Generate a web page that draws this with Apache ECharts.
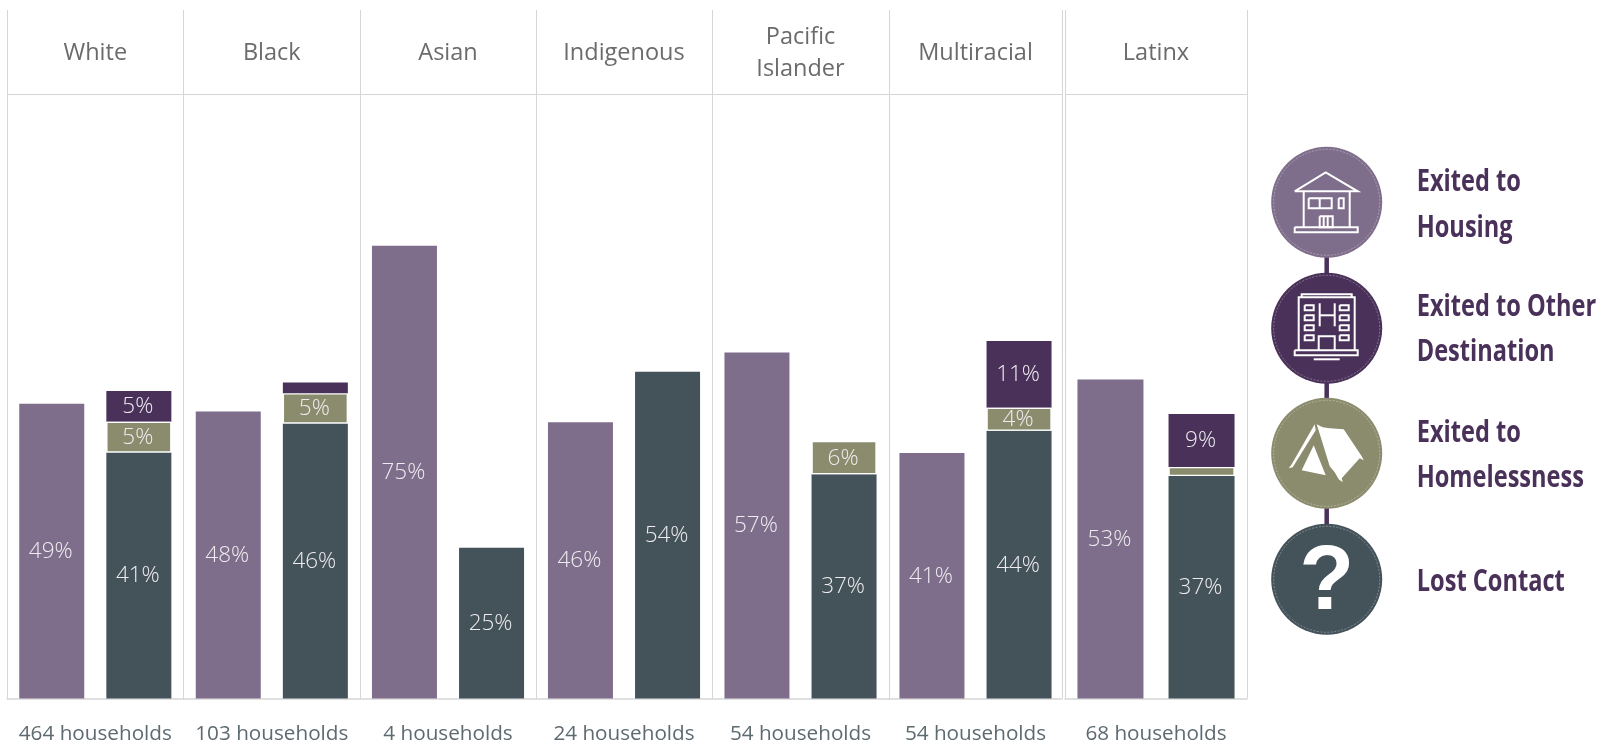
<!DOCTYPE html>
<html><head><meta charset="utf-8">
<style>html,body{margin:0;padding:0;background:#fff}#c{width:1600px;height:742px}</style>
<script src="https://cdn.jsdelivr.net/npm/echarts@6/dist/echarts.min.js"></script>
</head><body><div id="c"></div>
<script>
const races = ['White','Black','Asian','Indigenous','Pacific\nIslander','Multiracial','Latinx'];
const households = ['464 households','103 households','4 households','24 households','54 households','54 households','68 households'];
const exitedHousing = [48.9,47.6,75.1,45.8,57.4,40.7,52.9];
const lostContact = [40.8,45.6,25,54.2,37.2,44.4,36.9];
const exitedHomelessness = [5.1,5,null,null,5.5,3.8,1.5];
const exitedOther = [5.1,1.8,null,null,null,11.1,8.8];
const legendNames = [['Exited to','Housing'],['Exited to Other','Destination'],['Exited to','Homelessness'],['Lost Contact']];

const C = {housing:'#7f6e8b', other:'#4a3159', home:'#8b8c6d', lost:'#44525a', line:'#d6d6d6', head:'#6b6b6b', foot:'#5d6a70', lab:'#eeecf0'};
const panelL = [7,183.6,360,536,712,889,1065];
const panelR = [183.6,360,536,712,889,1062,1247];
const barW = [65,65,65,65,65,65,66], barGapP = ['34%','34%','34%','34%','34%','34%','38%'];
const TOP = 10, BASE = 698.5, PXPER = 6.03;
const yMax = (BASE-TOP)/PXPER, headVal = (BASE-94)/PXPER;

const fmt = p => (p.value>=3 ? Math.round(p.value)+'%' : '');
const grid=[],xAxis=[],yAxis=[],series=[];
function bar(name,g,stack,val,color,extra){
  series.push(Object.assign({type:'bar',name,xAxisIndex:g*2,yAxisIndex:g,stack,barWidth:barW[g],barGap:barGapP[g],
    data:[val],itemStyle:{color},
    label:{show:true,position:'inside',offset:[-1,0.5],formatter:fmt,color:C.lab,fontFamily:'Open Sans',fontSize:22.5,fontWeight:300}},extra||{}));
}
races.forEach((r,g)=>{
  grid.push({left:panelL[g],width:panelR[g]-panelL[g],top:TOP,height:BASE-TOP,outerBoundsMode:'none'});
  xAxis.push({gridIndex:g,type:'category',position:'bottom',data:[households[g]],
    axisTick:{show:false},axisLine:{lineStyle:{color:C.line,width:1.5}},
    splitLine:{show:true,interval:0,lineStyle:{color:C.line,width:1}},
    axisLabel:{interval:0,color:C.foot,fontFamily:'Open Sans',fontSize:20.7,margin:25}});
  xAxis.push({gridIndex:g,type:'category',position:'top',data:[r],
    axisTick:{show:false},axisLine:{show:false},
    axisLabel:{interval:0,inside:true,color:C.head,fontFamily:'Open Sans',fontSize:23.5,lineHeight:32,margin:43.5,verticalAlign:'middle'}});
  yAxis.push({gridIndex:g,type:'value',min:0,max:yMax,interval:headVal,
    axisLabel:{show:false},axisTick:{show:false},axisLine:{show:false},
    splitLine:{show:true,showMinLine:false,showMaxLine:false,lineStyle:{color:C.line,width:1}}});
  bar('Exited to Housing',g,'a'+g,exitedHousing[g],C.housing);
  bar('Lost Contact',g,'b'+g,lostContact[g],C.lost);
  bar('Exited to Homelessness',g,'b'+g,exitedHomelessness[g],C.home,{z:3,itemStyle:{color:C.home,borderColor:'#fff',borderWidth:1.2}});
  bar('Exited to Other Destination',g,'b'+g,exitedOther[g],C.other);
});

/* legend artwork */
const CX=1326.7, CY=[202.3,328.3,453.3,579.3], R=55.5, W='#ffffff';
const graphics=[{type:'line',z:1,shape:{x1:CX,y1:CY[0],x2:CX,y2:CY[3]},style:{stroke:'#4a3159',lineWidth:4.5}}];
[C.housing,C.other,C.home,C.lost].forEach((c,i)=>{
  graphics.push({type:'circle',z:2,shape:{cx:CX,cy:CY[i],r:R},style:{fill:c}});
  graphics.push({type:'circle',z:3,shape:{cx:CX,cy:CY[i],r:53},style:{fill:null,stroke:'rgba(255,255,255,.45)',lineWidth:.7,lineDash:[2,1.5]}});
});
function strokes(list,i,lw){list.forEach(p=>graphics.push({type:'polyline',z:4,x:CX,y:CY[i],shape:{points:p},
  style:{fill:null,stroke:W,lineWidth:lw||2}}));}
function rectP(x1,y1,x2,y2){return [[x1,y1],[x2,y1],[x2,y2],[x1,y2],[x1,y1]];}
function fills(list,i){list.forEach(p=>graphics.push({type:'polygon',z:4,x:CX,y:CY[i],shape:{points:p},style:{fill:W}}));}
strokes([
  [[-32,-11],[-1,-30],[31,-11],[-32,-11]],[[-23,-11],[-23,25]],[[23,-11],[23,25]],
  rectP(-32,25,31,30),rectP(-18,-4,5,6),[[-7,-4],[-7,6]],rectP(12,-4,17,6),rectP(-7,14,6,25),[[-3,14],[-3,25]],[[1,14],[1,25]]
],0);
strokes([
  [[-25,-31],[-25,-34],[25,-34],[25,-31]],[[-28,22],[-28,-31],[28,-31],[28,22]],
  rectP(-22,-23,-13,-18),rectP(-22,-13,-13,-8),rectP(-22,-3,-13,2),rectP(-22,7,-13,12),
  rectP(13,-23,22,-18),rectP(13,-13,22,-8),rectP(13,-3,22,2),rectP(13,7,22,12),
  [[-7,-25],[-7,-2]],[[8,-25],[8,-2]],[[-7,-13],[8,-13]],[[-8,22],[-8,8],[8,8],[8,22]],rectP(-32,22,31,27),[[-13,31],[13,31]]
],1);
fills([
  [[-10,-29],[-4,-26],[3,-25],[10,-24.5],[17,-24],[35,3],[37,7],[33,5],[15,25],[16,29],[12,26],[8,19],[3,13],[-5,-13]],
  [[-13,-8],[-25,17],[-1,22]],
  [[-12,-29],[-35,11],[-38,15],[-34,14],[-11,-23]]
],2);
graphics.push({type:'text',x:CX,y:CY[3]+5,z:4,style:{text:'?',fill:W,font:'bold 90px "Liberation Sans"',align:'center',verticalAlign:'middle'}});

const lines=[[183,228.5],[308,353],[433.7,479],[583]];
legendNames.forEach((ls,i)=>ls.forEach((t,j)=>{
  graphics.push({type:'text',x:1416.7,y:lines[i][j],scaleX:.8,z:5,
    style:{text:t,fill:'#4a3159',font:'bold 29.5px "Open Sans"',verticalAlign:'middle'}});
}));

const chart=echarts.init(document.getElementById('c'),null,{renderer:'canvas'});
chart.setOption({animation:false,backgroundColor:'#fff',grid,xAxis,yAxis,series,graphic:{elements:graphics}});
</script></body></html>
